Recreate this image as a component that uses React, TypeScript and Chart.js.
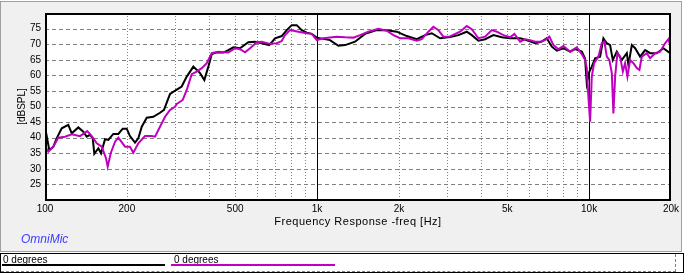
import React, { useEffect, useRef } from "react";
import { Chart, registerables } from "chart.js";

Chart.register(...registerables);

// ---- data ----
const blackFreq = [
  100, 103.7, 107.3, 110.4, 115.2, 121.8, 125.4, 132.6, 138.3, 142.3, 146.4, 149.8, 151.8, 157.1, 160.7,
  166.2, 170.9, 178.3, 186, 193.1, 199.7, 205.3, 214.2, 220.3, 226.8, 236.6, 250.2, 264.7, 273.8, 284,
  288.1, 305, 318, 331.9, 351, 371.5, 385.2, 398.5, 410.1, 427.9, 452.4, 472, 492.4, 521.2, 559.1,
  591.7, 626.2, 667.7, 700.8, 741.6, 773.7, 807.2, 842.1, 878.6, 916.5, 956.1, 997.5, 1116, 1198, 1268,
  1379, 1501, 1658, 1804, 1963, 2137, 2326, 2495, 2641, 2833, 3083, 3307, 3551, 3705, 3918,
  4147, 4449, 4777, 5123, 5578, 5983, 6332, 6700, 6990, 7294, 7610, 8044, 8513, 8881, 9402,
  9667, 9806, 10025, 10230, 10522, 10975, 11287, 11617, 11946, 12221, 12643, 13190, 13761, 13949, 14355,
  14762, 15400, 16065, 16759, 17735, 18757, 19855, 20000,
];
const blackSpl = [
  43.5, 36.0, 37.1, 39.8, 43.0, 44.1, 41.4, 43.3, 41.9, 40.3, 40.9, 39.8, 34.8, 36.6, 35.0,
  39.5, 39.3, 41.2, 41.2, 42.9, 42.9, 40.5, 38.4, 39.8, 43.5, 46.4, 46.7, 48.0, 48.9, 52.6,
  54.0, 55.4, 56.4, 59.6, 62.8, 60.7, 58.5, 62.8, 66.8, 67.4, 67.3, 68.1, 69.0, 68.7, 70.6,
  70.8, 70.3, 69.7, 71.9, 72.6, 74.5, 76.1, 76.1, 74.5, 73.7, 73.3, 72.1, 71.3, 69.5, 69.7,
  70.8, 73.3, 74.5, 74.5, 74.0, 72.6, 71.6, 72.9, 73.5, 71.9, 72.3, 72.9, 74.0, 72.9, 71.1,
  71.6, 72.9, 72.2, 71.9, 71.9, 71.1, 70.3, 70.8, 71.9, 69.2, 67.9, 68.7, 67.6, 68.4, 67.6,
  65.3, 57.4, 61.2, 62.8, 65.5, 66.0, 71.9, 70.3, 69.7, 64.9, 67.6, 64.9, 67.1, 63.3, 69.7,
  68.7, 66.0, 68.1, 67.1, 67.1, 68.7, 67.1, 66.8,
];

const magentaFreq = [
  100, 102.8, 107.3, 111.9, 118.5, 125.4, 134.5, 143, 148.5, 155, 161.6, 167.6, 170, 174.4, 180.9,
  186, 196.9, 205.3, 211.2, 220.3, 233.2, 246.9, 253.8, 264.7, 276.2, 288.1, 300.6, 305, 320.9, 331.9,
  346.2, 361.2, 376.8, 393.1, 410.1, 433.6, 472, 499.5, 521.2, 543.7, 567.2, 600.2, 626.2, 671.8, 710.9,
  741.6, 762.7, 795.6, 853.7, 916.5, 956.1, 997.5, 1055, 1181, 1268, 1360, 1439, 1544, 1681, 1804,
  1908, 2019, 2166, 2326, 2426, 2566, 2677, 2793, 2913, 3083, 3355, 3551, 3705, 3918, 4147,
  4389, 4579, 4842, 5123, 5313, 5578, 5818, 6070, 6332, 6606, 6890, 7145, 7394, 7713, 8044,
  8513, 9010, 9402, 9667, 9806, 9940, 10085, 10230, 10432, 10820, 11135, 11382, 11617, 11874, 12120,
  12283, 12463, 12706, 13002, 13303, 13566, 13831, 14150, 14552, 14977, 15308, 15623, 16296, 16759, 17480,
  18239, 19025, 19564, 19855, 20000,
];
const magentaSpl = [
  37.3, 35.5, 37.1, 40.0, 40.3, 41.1, 40.5, 42.1, 40.5, 38.2, 37.1, 33.4, 30.7, 35.0, 38.7,
  40.0, 37.1, 37.1, 35.2, 38.2, 40.5, 40.5, 40.3, 43.5, 46.7, 48.9, 49.9, 50.8, 52.1, 55.3,
  60.4, 61.2, 62.3, 63.9, 67.1, 67.6, 67.3, 68.7, 68.4, 67.4, 68.7, 70.6, 70.8, 70.1, 70.3,
  71.0, 72.9, 74.5, 74.0, 73.5, 73.3, 71.3, 71.9, 72.4, 72.2, 72.1, 72.9, 74.0, 74.9, 74.3,
  72.9, 71.9, 71.9, 71.1, 71.6, 74.0, 75.6, 74.5, 72.4, 72.5, 74.0, 75.8, 74.8, 71.9, 72.4,
  74.5, 74.0, 72.9, 72.2, 73.3, 70.8, 71.6, 71.3, 70.8, 70.8, 71.3, 72.4, 69.7, 68.4, 69.4,
  67.6, 69.0, 66.8, 64.9, 62.3, 53.1, 45.1, 59.6, 63.9, 66.0, 70.3, 70.8, 66.0, 64.9, 60.7,
  47.8, 59.6, 67.1, 66.0, 61.2, 63.9, 59.6, 64.9, 63.9, 62.3, 61.7, 66.0, 67.1, 65.5, 67.1,
  67.6, 70.3, 71.6, 69.7, 70.0,
];

const seriesNames = ["0 degrees", "0 degrees"];
const seriesColors = ["#000000", "#c000c0"];

const xTickValues = [
  100, 200, 300, 400, 500, 600, 700, 800, 900, 1000, 2000, 3000, 4000, 5000, 6000, 7000, 8000, 9000, 10000, 20000,
];
const xTickLabels: Record<number, string> = {
  100: "100", 200: "200", 500: "500", 1000: "1k", 2000: "2k", 5000: "5k", 10000: "10k", 20000: "20k",
};
const xMinorGrid = [200, 300, 400, 500, 600, 700, 800, 900, 2000, 3000, 4000, 5000, 6000, 7000, 8000, 9000];
const xMajorGrid = [1000, 10000];
const yGridValues = [25, 30, 35, 40, 45, 50, 55, 60, 65, 70, 75];
const yMin = 20;
const yMax = 80;

const FONT = "'Liberation Sans', Arial, sans-serif";

const gridPlugin = {
  id: "omniGrid",
  beforeDraw(chart: any) {
    const { ctx, chartArea: a } = chart;
    ctx.save();
    ctx.fillStyle = "#ffffff";
    ctx.fillRect(a.left, a.top, a.right - a.left, a.bottom - a.top);
    ctx.restore();
  },
  beforeDatasetsDraw(chart: any) {
    const { ctx, chartArea: a, scales } = chart;
    const xs = scales.x;
    const ys = scales.y;
    ctx.save();
    ctx.lineWidth = 1;
    ctx.strokeStyle = "#808080";
    ctx.setLineDash([4, 3]);
    for (const v of yGridValues) {
      const py = Math.round(ys.getPixelForValue(v)) + 0.5;
      ctx.beginPath();
      ctx.moveTo(a.left, py);
      ctx.lineTo(a.right, py);
      ctx.stroke();
    }
    ctx.setLineDash([1, 2]);
    for (const v of xMinorGrid) {
      const px = Math.round(xs.getPixelForValue(v)) + 0.5;
      ctx.beginPath();
      ctx.moveTo(px, a.top);
      ctx.lineTo(px, a.bottom);
      ctx.stroke();
    }
    ctx.setLineDash([]);
    ctx.strokeStyle = "#000000";
    for (const v of xMajorGrid) {
      const px = Math.round(xs.getPixelForValue(v)) + 0.5;
      ctx.beginPath();
      ctx.moveTo(px, a.top);
      ctx.lineTo(px, a.bottom);
      ctx.stroke();
    }
    ctx.restore();
  },
  afterDatasetsDraw(chart: any) {
    const { ctx, chartArea: a } = chart;
    ctx.save();
    ctx.lineWidth = 2;
    ctx.strokeStyle = "#000000";
    ctx.strokeRect(a.left + 1, a.top + 1, a.right - a.left - 2, a.bottom - a.top - 1);
    ctx.restore();
  },
};

export default function App() {
  const canvasRef = useRef<HTMLCanvasElement | null>(null);

  useEffect(() => {
    if (!canvasRef.current) return;
    const chart = new Chart(canvasRef.current, {
      type: "line",
      data: {
        datasets: [
          {
            label: seriesNames[0],
            data: blackFreq.map((f, i) => ({ x: f, y: blackSpl[i] })),
            borderColor: seriesColors[0],
            borderWidth: 2,
            pointRadius: 0,
            tension: 0,
            order: 2,
          },
          {
            label: seriesNames[1],
            data: magentaFreq.map((f, i) => ({ x: f, y: magentaSpl[i] })),
            borderColor: seriesColors[1],
            borderWidth: 2,
            pointRadius: 0,
            tension: 0,
            order: 1,
          },
        ],
      },
      options: {
        animation: false,
        responsive: false,
        events: [],
        layout: { padding: { left: 0, top: 13, right: 14, bottom: 0 } },
        plugins: { legend: { display: false }, tooltip: { enabled: false }, title: { display: false } },
        scales: {
          x: {
            type: "logarithmic",
            min: 100,
            max: 20000,
            afterBuildTicks: (s: any) => {
              s.ticks = xTickValues.map((v) => ({ value: v }));
            },
            afterFit: (s: any) => {
              s.height = 51;
            },
            grid: { display: false, drawTicks: false },
            border: { display: false },
            ticks: {
              autoSkip: false,
              maxRotation: 0,
              minRotation: 0,
              padding: 3,
              color: "#000",
              font: { family: FONT, size: 10 },
              callback: (v: any) => xTickLabels[Number(v)] ?? "",
            },
          },
          y: {
            type: "linear",
            min: yMin,
            max: yMax,
            afterFit: (s: any) => {
              s.width = 45;
            },
            grid: { display: false, drawTicks: false },
            border: { display: false },
            ticks: {
              stepSize: 5,
              padding: 4,
              color: "#000",
              font: { family: FONT, size: 10 },
              callback: (v: any) => (Number(v) === yMin || Number(v) === yMax ? "" : String(v)),
            },
            title: {
              display: true,
              text: "[dBSPL]",
              color: "#000",
              font: { family: FONT, size: 10 },
              padding: { top: 16, bottom: 0 },
            },
          },
        },
      },
      plugins: [gridPlugin],
    } as any);
    return () => chart.destroy();
  }, []);

  return (
    <div style={{ position: "absolute", left: 0, top: 0, width: 685, height: 273, background: "#ffffff", overflow: "hidden", fontFamily: FONT }}>
      <div
        style={{
          position: "absolute", left: 0, top: 1, width: 682, height: 251, boxSizing: "border-box",
          border: "1px solid #a0a0a0", background: "#f0f0f0",
        }}
      />
      <canvas ref={canvasRef} width={685} height={251} style={{ position: "absolute", left: 0, top: 0, width: 685, height: 251 }} />
      <div
        style={{
          position: "absolute", left: 158, top: 215, width: 400, textAlign: "center", fontSize: 11, lineHeight: "13px",
          letterSpacing: "0.5px", color: "#000", whiteSpace: "nowrap",
        }}
      >
        Frequency Response -freq [Hz]
      </div>
      <div style={{ position: "absolute", left: 21, top: 232, fontSize: 12, lineHeight: "14px", fontStyle: "italic", color: "#3c3cff" }}>
        OmniMic
      </div>
      <div
        style={{
          position: "absolute", left: 0, top: 253, width: 684, height: 20, boxSizing: "border-box",
          border: "1px solid #000", background: "#fff",
        }}
      >
        <div style={{ position: "absolute", left: 0, top: 17, width: 675, height: 0, borderTop: "1px dashed #808080" }} />
        <div style={{ position: "absolute", left: 674, top: 0, width: 0, height: 18, borderLeft: "1px dashed #808080" }} />
        <div style={{ position: "absolute", left: 2, top: 0, fontSize: 10, lineHeight: "11px", color: "#000" }}>{seriesNames[0]}</div>
        <div style={{ position: "absolute", left: 1, top: 10, width: 163, height: 2, background: seriesColors[0] }} />
        <div style={{ position: "absolute", left: 173, top: 0, fontSize: 10, lineHeight: "11px", color: "#000" }}>{seriesNames[1]}</div>
        <div style={{ position: "absolute", left: 170, top: 10, width: 164, height: 2, background: seriesColors[1] }} />
      </div>
    </div>
  );
}
